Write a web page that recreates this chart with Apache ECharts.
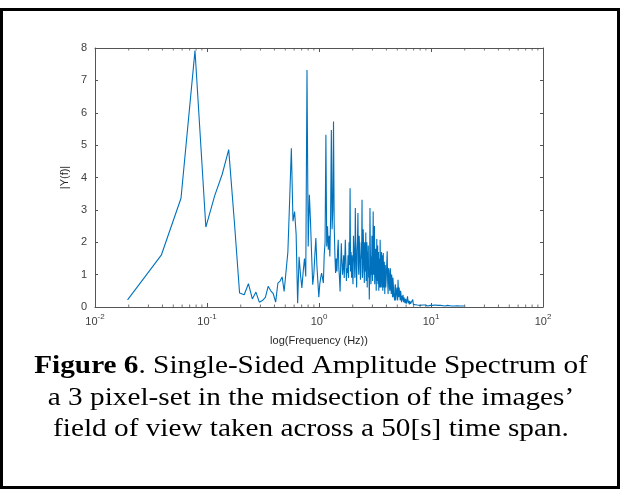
<!DOCTYPE html>
<html><head><meta charset="utf-8">
<script src="https://cdn.jsdelivr.net/npm/echarts@6/dist/echarts.min.js"></script>
<style>html,body{margin:0;padding:0;background:#fff}#c{width:621px;height:491px}</style>
</head><body><div id="c"></div>
<script>
// FFT bin width: 40 Hz sampling, 2048-point transform
const binWidthHz = 40 / 2048;

const bins = [
  1,2,3,4,5,6,7,8,9,10,11,12,13,14,15,16,17,18,19,20,
  21,22,23,24,25,26,27,28,29,30,31,32,33,34,35,36,37,38,39,40,
  41,42,43,44,45,46,47,48,49,50,51,52,53,54,55,56,57,58,59,60,
  61,62,63,64,65,66,67,68,69,70,71,72,73,74,75,76,77,78,79,80,
  81,82,83,84,85,86,87,88,89,90,91,92,93,94,95,96,97,98,99,100,
  101,102,103,104,105,106,107,108,109,110,111,112,113,114,115,116,117,118,119,120,
  121,122,123,124,125,126,127,128,129,130,131,132,133,134,135,136,137,138,139,140,
  141,142,143,144,145,146,147,148,149,150,151,152,153,154,155,156,157,158,159,160,
  161,162,163,164,165,166,167,168,169,170,171,172,173,174,175,176,177,178,179,180,
  181,182,183,184,185,186,187,188,189,190,191,192,193,194,195,196,197,198,199,200,
  202,204,206,208,210,212,214,216,218,220,222,224,226,228,230,232,234,236,238,240,
  242,244,246,248,250,252,254,256,258,260,262,264,266,268,270,272,274,276,278,280,
  282,284,286,288,290,292,294,296,298,300,
  304,308,312,316,320,324,328,332,336,340,344,348,352,356,360,364,368,372,376,380,
  384,388,392,396,400,
  408,416,424,432,440,448,456,464,472,480,488,496,504,512,
  528,544,560,576,592,608,624,640,656,672,688,704,720,736,752,768,
  784,800,816,832,848,864,880,896,912,928,944,960,976,992,1008,1024
];

const amplitude = [
  0.22,1.60,3.36,7.92,2.47,3.44,4.10,4.86,2.60,0.43,0.38,0.72,0.25,0.46,0.15,0.20,0.30,0.64,0.50,0.41,
  0.15,0.74,0.80,0.93,0.48,0.50,1.70,3.30,4.90,2.65,2.95,2.25,0.12,1.55,1.00,0.59,1.10,1.50,0.94,7.32,
  1.87,3.47,2.64,1.60,0.69,1.00,1.60,2.13,1.30,0.80,0.30,0.70,0.90,1.05,0.90,0.74,1.61,2.00,5.32,1.87,
  2.49,1.77,2.20,1.56,2.80,5.47,2.40,3.00,5.73,2.49,1.60,1.05,1.50,1.10,1.70,2.08,1.20,0.90,0.48,1.30,
  1.97,1.40,1.00,1.25,1.60,0.90,1.50,2.08,1.40,0.80,1.20,1.05,1.60,0.90,2.00,1.30,3.67,1.10,1.70,0.90,
  1.60,1.05,0.70,2.20,1.80,1.40,0.90,3.06,1.90,1.20,0.60,1.77,2.10,2.90,1.30,1.00,2.20,1.80,1.40,0.84,
  1.10,2.00,1.50,3.31,0.90,1.20,2.40,1.90,1.30,0.74,2.00,1.50,1.10,2.30,0.80,1.67,2.00,0.60,1.70,1.40,
  1.90,0.90,1.20,0.23,1.00,3.06,1.90,1.20,0.70,1.56,1.00,2.20,1.40,0.80,1.70,2.95,1.30,1.00,1.90,2.50,
  0.70,1.00,1.30,1.80,1.50,0.50,1.20,2.10,0.80,1.40,1.90,0.70,1.20,1.70,0.50,1.20,1.50,0.60,1.00,2.08,
  1.30,0.60,1.50,1.20,1.70,0.80,0.60,1.60,1.10,0.50,0.90,1.67,0.60,1.00,1.30,1.40,0.80,0.40,1.10,1.30,
  0.60,0.90,1.30,1.72,0.80,0.40,1.20,1.10,0.60,0.50,1.20,0.90,0.40,1.00,0.80,0.30,0.90,0.70,0.30,0.40,
  0.20,0.60,0.70,0.20,0.40,0.50,0.60,0.35,0.20,0.84,0.50,0.30,0.60,0.45,0.35,0.20,0.50,0.40,0.25,0.15,
  0.35,0.30,0.20,0.38,0.25,0.15,0.30,0.28,0.20,0.12,
  0.25,0.10,0.20,0.33,0.12,0.20,0.08,0.18,0.10,0.15,0.08,0.14,0.23,0.08,0.12,0.06,0.10,0.07,0.09,0.05,
  0.08,0.06,0.10,0.05,0.07,
  0.05,0.07,0.04,0.06,0.04,0.05,0.06,0.04,0.05,0.03,0.05,0.04,0.05,0.03,
  0.05,0.04,0.06,0.04,0.05,0.03,0.05,0.04,0.04,0.05,0.03,0.04,0.05,0.03,0.04,0.04,
  0.03,0.04,0.05,0.03,0.04,0.03,0.04,0.03,0.04,0.03,0.03,0.04,0.03,0.03,0.04,0.03
];

const xMin = 0.01, xMax = 100;
const yMin = 0, yMax = 8;
const minorTickValues = [
  0.02,0.03,0.04,0.05,0.06,0.07,0.08,0.09,
  0.2,0.3,0.4,0.5,0.6,0.7,0.8,0.9,
  2,3,4,5,6,7,8,9,
  20,30,40,50,60,70,80,90
];
const xAxisTitle = 'log(Frequency (Hz))';
const yAxisTitle = '|Y(f)|';
const captionLines = [
  ['Figure 6', '. Single-Sided Amplitude Spectrum of'],
  ['', 'a 3 pixel-set in the midsection of the images\u2019'],
  ['', 'field of view taken across a 50[s] time span.']
];

const axisColor = '#555555';
const labelColor = '#404040';
const lineColor = '#0072BD';

const chart = echarts.init(document.getElementById('c'), null, {renderer: 'canvas'});

const seriesData = bins.map((k, i) => [k * binWidthHz, amplitude[i]]);

function logLabel(v) {
  const e = Math.round(Math.log10(v));
  return '{b|10}{s|' + e + '}';
}

const captionY = [366, 398, 429];
const graphics = [
  {type: 'rect', shape: {x: 1.5, y: 9.5, width: 617, height: 478}, style: {stroke: '#000', fill: 'none', lineWidth: 3}, silent: true}
];
captionLines.forEach((ln, i) => {
  graphics.push({
    type: 'text', x: 311, y: captionY[i], scaleX: 1.125, silent: true,
    style: {
      text: (ln[0] ? '{b|' + ln[0] + '}' : '') + '{r|' + ln[1] + '}',
      x: 0, y: 0, align: 'center', verticalAlign: 'middle',
      font: '26px "Liberation Serif"', fill: '#000',
      rich: {
        b: {fontFamily: 'Liberation Serif', fontSize: 26, fontWeight: 'bold', fill: '#000'},
        r: {fontFamily: 'Liberation Serif', fontSize: 26, fill: '#000'}
      }
    }
  });
});

const richLabel = {
  b: {fontFamily: 'Liberation Sans', fontSize: 11, color: labelColor, verticalAlign: 'bottom'},
  s: {fontFamily: 'Liberation Sans', fontSize: 8, color: labelColor, verticalAlign: 'bottom', padding: [0, 0, 6, 0]}
};

chart.setOption({
  animation: false,
  backgroundColor: '#fff',
  grid: {left: 95, right: 78, top: 48, bottom: 184, containLabel: false},
  xAxis: [
    {
      type: 'log', logBase: 10, min: xMin, max: xMax, position: 'bottom',
      name: xAxisTitle, nameLocation: 'middle', nameGap: 28,
      nameTextStyle: {fontFamily: 'Liberation Sans', fontSize: 11, color: '#262626'},
      axisLine: {show: true, onZero: false, lineStyle: {color: axisColor, width: 1}},
      axisTick: {show: true, inside: true, length: 4, lineStyle: {color: axisColor}},
      minorTick: {show: false},
      axisLabel: {formatter: logLabel, rich: richLabel, margin: 6},
      splitLine: {show: false}
    },
    {
      type: 'log', logBase: 10, min: xMin, max: xMax, position: 'top',
      axisLine: {show: true, onZero: false, lineStyle: {color: axisColor, width: 1}},
      axisTick: {show: true, inside: true, length: 4, lineStyle: {color: axisColor}},
      axisLabel: {show: false}, splitLine: {show: false}
    }
  ],
  yAxis: [
    {
      type: 'value', min: yMin, max: yMax, interval: 1, position: 'left',
      name: yAxisTitle, nameLocation: 'middle', nameGap: 19, nameRotate: 90,
      nameTextStyle: {fontFamily: 'Liberation Sans', fontSize: 11, color: '#262626'},
      axisLine: {show: true, lineStyle: {color: axisColor, width: 1}},
      axisTick: {show: true, inside: true, length: 3, lineStyle: {color: axisColor}},
      axisLabel: {fontFamily: 'Liberation Sans', fontSize: 11, color: labelColor, margin: 8},
      splitLine: {show: false}
    },
    {
      type: 'value', min: yMin, max: yMax, interval: 1, position: 'right',
      axisLine: {show: true, lineStyle: {color: axisColor, width: 1}},
      axisTick: {show: true, inside: true, length: 3, lineStyle: {color: axisColor}},
      axisLabel: {show: false}, splitLine: {show: false}
    }
  ],
  series: [
    {
      type: 'line', data: seriesData, xAxisIndex: 0, yAxisIndex: 0,
      showSymbol: false, symbol: 'none', smooth: false,
      lineStyle: {color: lineColor, width: 1.1}, silent: true, z: 3
    },
    {
      type: 'scatter', xAxisIndex: 0, yAxisIndex: 0, silent: true, clip: false,
      data: minorTickValues.map(v => [v, yMin]),
      symbol: 'rect', symbolSize: [1, 2.5], symbolOffset: [0, -1.25],
      itemStyle: {color: axisColor}, z: 4
    },
    {
      type: 'scatter', xAxisIndex: 0, yAxisIndex: 0, silent: true, clip: false,
      data: minorTickValues.map(v => [v, yMax]),
      symbol: 'rect', symbolSize: [1, 2.5], symbolOffset: [0, 1.25],
      itemStyle: {color: axisColor}, z: 4
    }
  ],
  graphic: graphics
});
</script>
</body></html>
